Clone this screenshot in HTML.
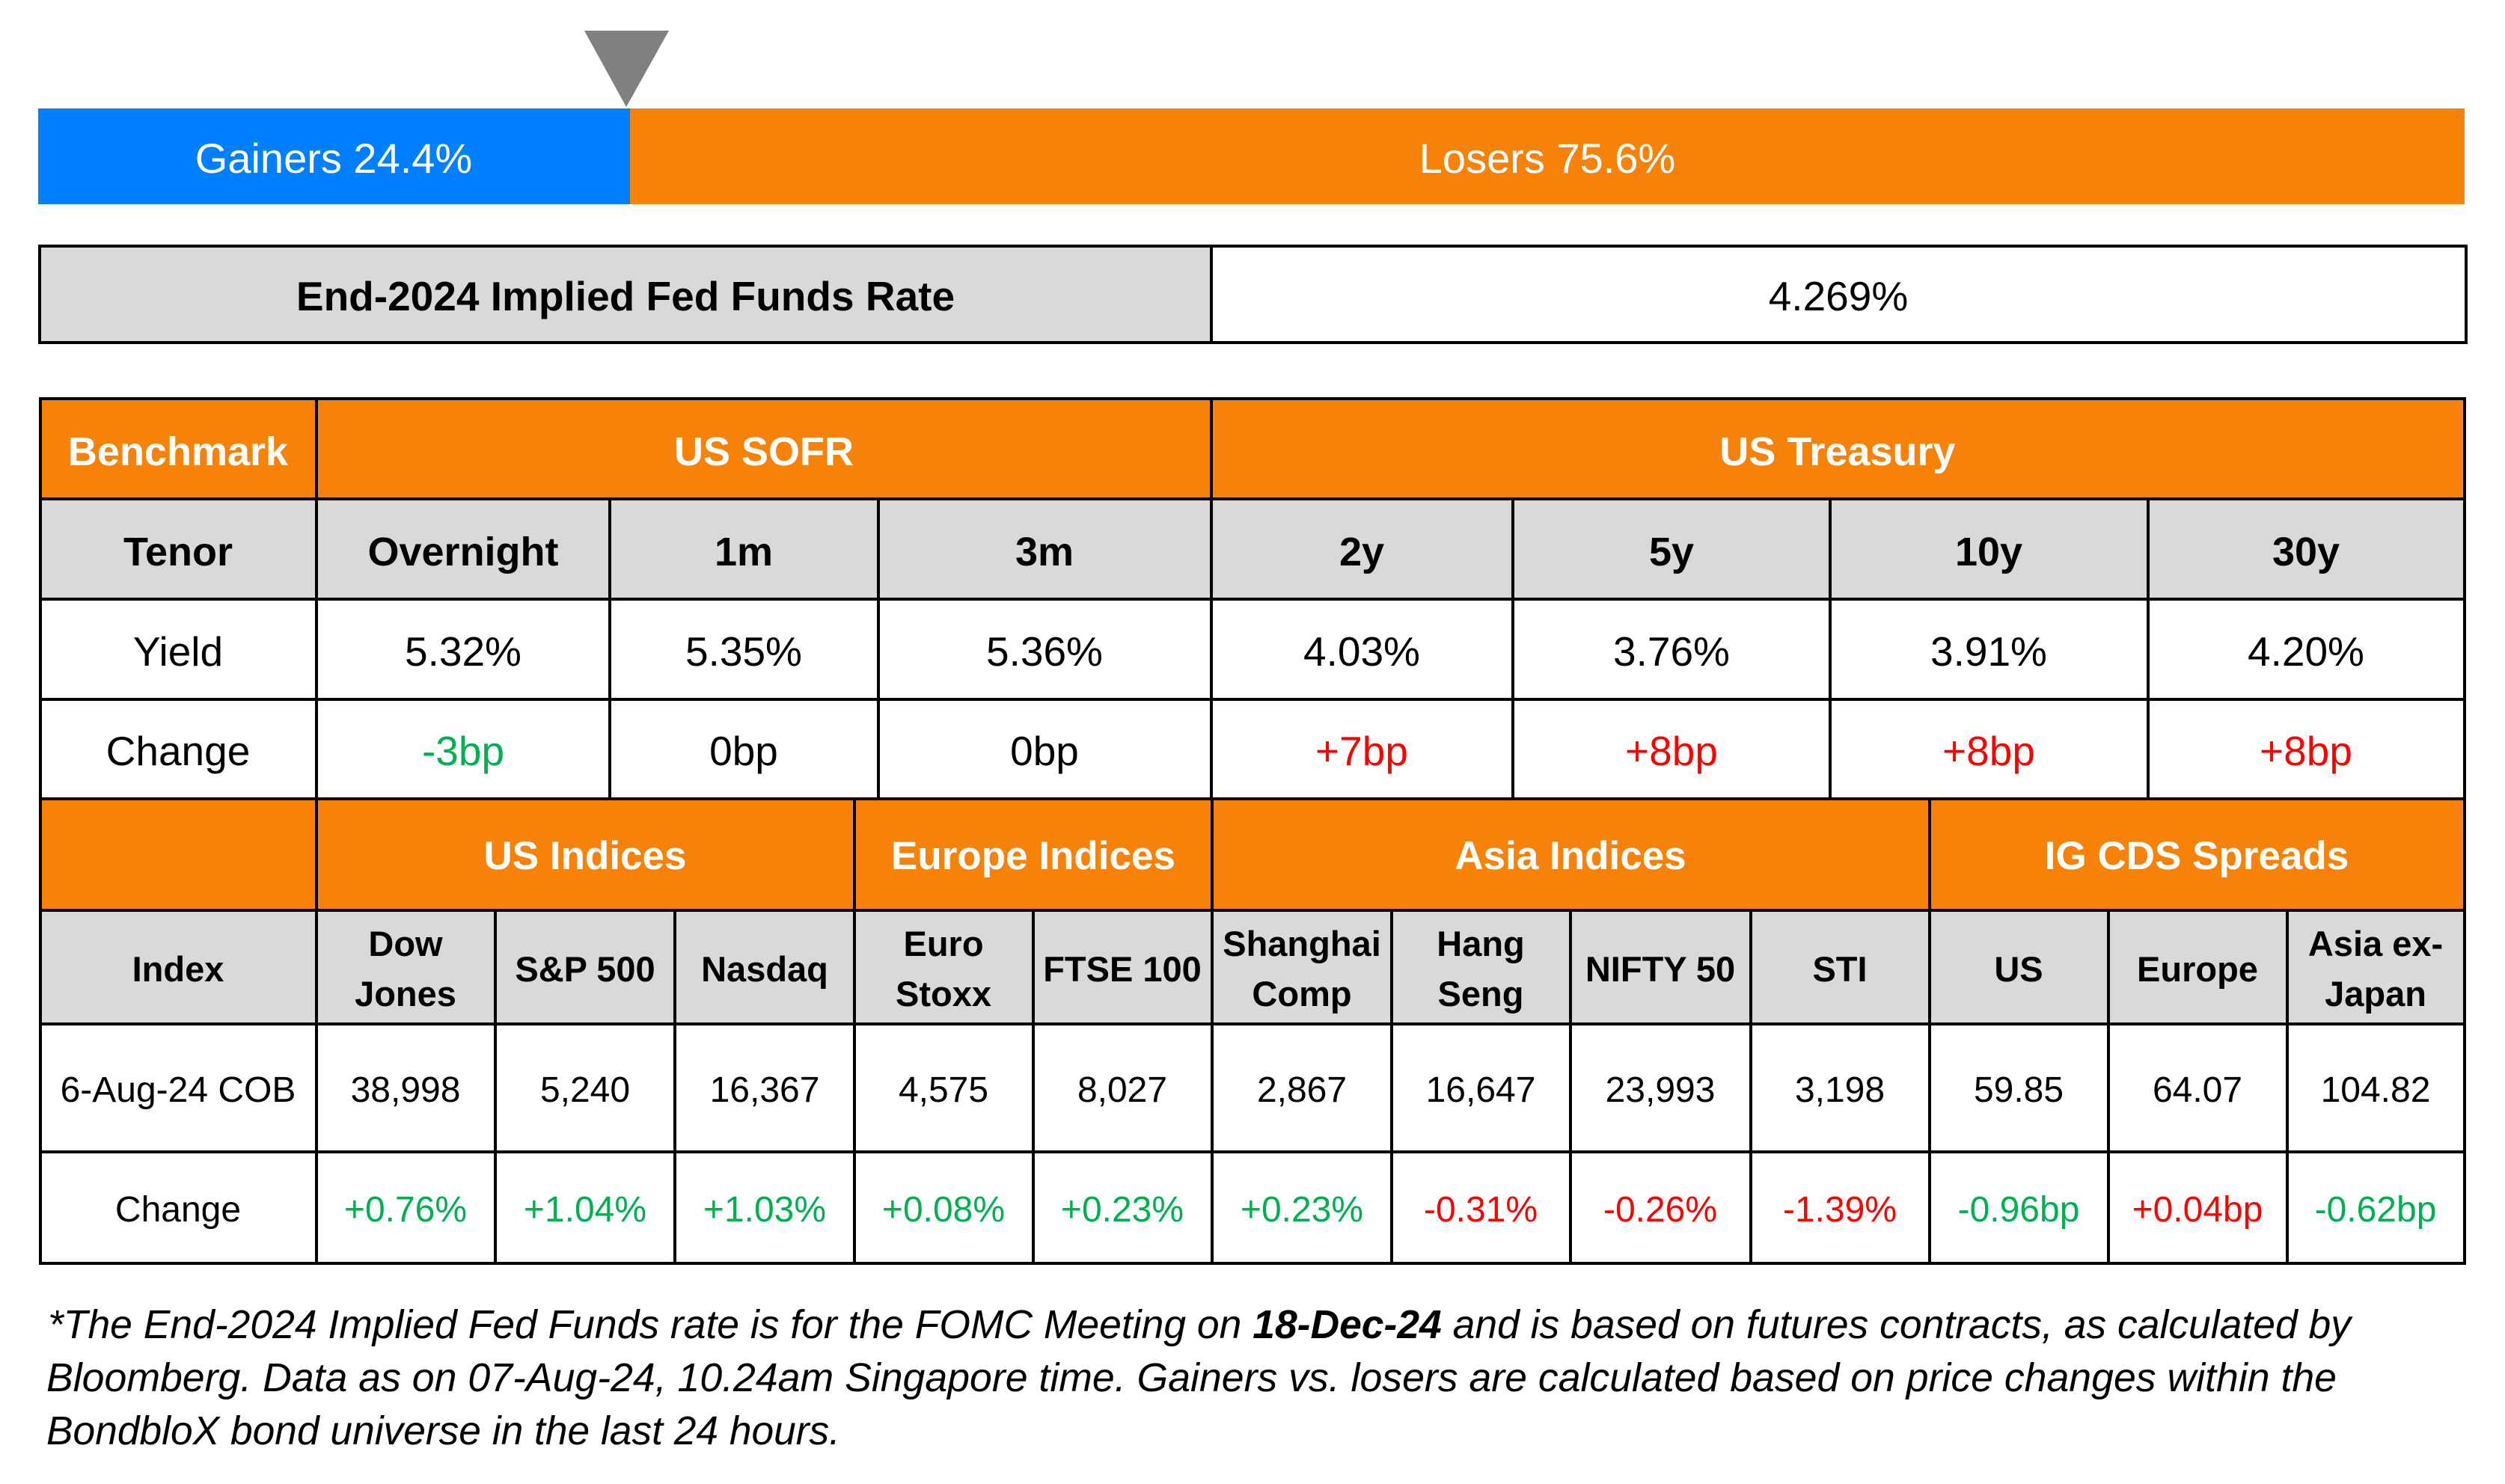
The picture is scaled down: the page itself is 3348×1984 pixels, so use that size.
<!DOCTYPE html>
<html>
<head>
<meta charset="utf-8">
<style>
html,body{margin:0;padding:0;background:#fff;}
svg{display:block;}
text{font-family:"Liberation Sans",Arial,sans-serif;}
.b{font-weight:bold;}
.w{fill:#fff;}
.k{fill:#000;}
.g{fill:#00B050;}
.r{fill:#FF0000;}
</style>
</head>
<body>
<svg xmlns="http://www.w3.org/2000/svg" width="3348" height="1984" viewBox="0 0 3348 1984">
<rect x="0" y="0" width="3348" height="1984" fill="#fff"/>

<!-- Gainers / Losers bar -->
<polygon points="781,41 894,41 837,143" fill="#808080"/>
<rect x="51" y="145" width="791" height="128" fill="#0080FF"/>
<rect x="842" y="145" width="2452" height="128" fill="#F7820A"/>
<text x="446" y="231" font-size="56" text-anchor="middle" class="w">Gainers 24.4%</text>
<text x="2068" y="231" font-size="56" text-anchor="middle" class="w">Losers 75.6%</text>

<!-- Fed funds box -->
<rect x="53" y="329" width="1566" height="129" fill="#D9D9D9"/>
<g stroke="#000" stroke-width="4" stroke-linecap="square" fill="none">
<rect x="53" y="329" width="3243" height="129"/>
<line x1="1619" y1="329" x2="1619" y2="458"/>
</g>
<text x="836" y="415" font-size="55" text-anchor="middle" class="b k">End-2024 Implied Fed Funds Rate</text>
<text x="2457" y="415" font-size="55" text-anchor="middle" class="k">4.269%</text>

<!-- Top table backgrounds -->
<rect x="54" y="533" width="3240" height="134" fill="#F7820A"/>
<rect x="54" y="667" width="3240" height="134" fill="#D9D9D9"/>
<!-- Second table backgrounds -->
<rect x="54" y="1068" width="3240" height="149" fill="#F7820A"/>
<rect x="54" y="1217" width="3240" height="152" fill="#D9D9D9"/>

<g stroke="#000" stroke-width="4" stroke-linecap="square" fill="none">
<!-- top table horizontals -->
<line x1="54" y1="533" x2="3294" y2="533"/>
<line x1="54" y1="667" x2="3294" y2="667"/>
<line x1="54" y1="801" x2="3294" y2="801"/>
<line x1="54" y1="935" x2="3294" y2="935"/>
<line x1="54" y1="1068" x2="3294" y2="1068"/>
<!-- outer verticals -->
<line x1="54" y1="533" x2="54" y2="1689"/>
<line x1="3294" y1="533" x2="3294" y2="1689"/>
<!-- top table verticals -->
<line x1="423" y1="533" x2="423" y2="1068"/>
<line x1="1619" y1="533" x2="1619" y2="1068"/>
<line x1="815" y1="667" x2="815" y2="1068"/>
<line x1="1174" y1="667" x2="1174" y2="1068"/>
<line x1="2022" y1="667" x2="2022" y2="1068"/>
<line x1="2446" y1="667" x2="2446" y2="1068"/>
<line x1="2871" y1="667" x2="2871" y2="1068"/>
<!-- second table horizontals -->
<line x1="54" y1="1217" x2="3294" y2="1217"/>
<line x1="54" y1="1369" x2="3294" y2="1369"/>
<line x1="54" y1="1540" x2="3294" y2="1540"/>
<line x1="54" y1="1689" x2="3294" y2="1689"/>
<!-- second table verticals -->
<line x1="423" y1="1068" x2="423" y2="1689"/>
<line x1="1142" y1="1068" x2="1142" y2="1689"/>
<line x1="1620" y1="1068" x2="1620" y2="1689"/>
<line x1="2579" y1="1068" x2="2579" y2="1689"/>
<line x1="662" y1="1217" x2="662" y2="1689"/>
<line x1="902" y1="1217" x2="902" y2="1689"/>
<line x1="1381" y1="1217" x2="1381" y2="1689"/>
<line x1="1860" y1="1217" x2="1860" y2="1689"/>
<line x1="2099" y1="1217" x2="2099" y2="1689"/>
<line x1="2340" y1="1217" x2="2340" y2="1689"/>
<line x1="2818" y1="1217" x2="2818" y2="1689"/>
<line x1="3057" y1="1217" x2="3057" y2="1689"/>
</g>

<!-- Top table text -->
<g font-size="54" text-anchor="middle" class="b w">
<text x="238" y="622">Benchmark</text>
<text x="1021" y="622">US SOFR</text>
<text x="2456" y="622">US Treasury</text>
</g>
<g font-size="54" text-anchor="middle" class="b k">
<text x="238" y="756">Tenor</text>
<text x="619" y="756">Overnight</text>
<text x="994" y="756">1m</text>
<text x="1396" y="756">3m</text>
<text x="1820" y="756">2y</text>
<text x="2234" y="756">5y</text>
<text x="2658" y="756">10y</text>
<text x="3082" y="756">30y</text>
</g>
<g font-size="55" text-anchor="middle" class="k">
<text x="238" y="890">Yield</text>
<text x="619" y="890">5.32%</text>
<text x="994" y="890">5.35%</text>
<text x="1396" y="890">5.36%</text>
<text x="1820" y="890">4.03%</text>
<text x="2234" y="890">3.76%</text>
<text x="2658" y="890">3.91%</text>
<text x="3082" y="890">4.20%</text>
</g>
<g font-size="55" text-anchor="middle">
<text x="238" y="1023" class="k">Change</text>
<text x="619" y="1023" class="g">-3bp</text>
<text x="994" y="1023" class="k">0bp</text>
<text x="1396" y="1023" class="k">0bp</text>
<text x="1820" y="1023" class="r">+7bp</text>
<text x="2234" y="1023" class="r">+8bp</text>
<text x="2658" y="1023" class="r">+8bp</text>
<text x="3082" y="1023" class="r">+8bp</text>
</g>

<!-- Second table text -->
<g font-size="53" text-anchor="middle" class="b w">
<text x="782" y="1162">US Indices</text>
<text x="1381" y="1162">Europe Indices</text>
<text x="2099" y="1162">Asia Indices</text>
<text x="2936" y="1162">IG CDS Spreads</text>
</g>
<g font-size="47" text-anchor="middle" class="b k">
<text x="238" y="1312">Index</text>
<text x="542" y="1278">Dow</text>
<text x="542" y="1345">Jones</text>
<text x="782" y="1312">S&amp;P 500</text>
<text x="1022" y="1312">Nasdaq</text>
<text x="1261" y="1278">Euro</text>
<text x="1261" y="1345">Stoxx</text>
<text x="1500" y="1312">FTSE 100</text>
<text x="1740" y="1278">Shanghai</text>
<text x="1740" y="1345">Comp</text>
<text x="1979" y="1278">Hang</text>
<text x="1979" y="1345">Seng</text>
<text x="2219" y="1312">NIFTY 50</text>
<text x="2459" y="1312">STI</text>
<text x="2698" y="1312">US</text>
<text x="2937" y="1312">Europe</text>
<text x="3175" y="1278">Asia ex-</text>
<text x="3175" y="1345">Japan</text>
</g>
<g font-size="48" text-anchor="middle" class="k">
<text x="238" y="1473">6-Aug-24 COB</text>
<text x="542" y="1473">38,998</text>
<text x="782" y="1473">5,240</text>
<text x="1022" y="1473">16,367</text>
<text x="1261" y="1473">4,575</text>
<text x="1500" y="1473">8,027</text>
<text x="1740" y="1473">2,867</text>
<text x="1979" y="1473">16,647</text>
<text x="2219" y="1473">23,993</text>
<text x="2459" y="1473">3,198</text>
<text x="2698" y="1473">59.85</text>
<text x="2937" y="1473">64.07</text>
<text x="3175" y="1473">104.82</text>
</g>
<g font-size="48" text-anchor="middle">
<text x="238" y="1633" class="k">Change</text>
<text x="542" y="1633" class="g">+0.76%</text>
<text x="782" y="1633" class="g">+1.04%</text>
<text x="1022" y="1633" class="g">+1.03%</text>
<text x="1261" y="1633" class="g">+0.08%</text>
<text x="1500" y="1633" class="g">+0.23%</text>
<text x="1740" y="1633" class="g">+0.23%</text>
<text x="1979" y="1633" class="r">-0.31%</text>
<text x="2219" y="1633" class="r">-0.26%</text>
<text x="2459" y="1633" class="r">-1.39%</text>
<text x="2698" y="1633" class="g">-0.96bp</text>
<text x="2937" y="1633" class="r">+0.04bp</text>
<text x="3175" y="1633" class="g">-0.62bp</text>
</g>

<!-- Footnote -->
<g font-size="54" font-style="italic" class="k">
<text x="64" y="1789" textLength="3078" lengthAdjust="spacingAndGlyphs">*The End-2024 Implied Fed Funds rate is for the FOMC Meeting on <tspan font-weight="bold">18-Dec-24</tspan> and is based on futures contracts, as calculated by</text>
<text x="62" y="1860" textLength="3061" lengthAdjust="spacingAndGlyphs">Bloomberg. Data as on 07-Aug-24, 10.24am Singapore time. Gainers vs. losers are calculated based on price changes within the</text>
<text x="62" y="1931" textLength="1061" lengthAdjust="spacingAndGlyphs">BondbloX bond universe in the last 24 hours.</text>
</g>
</svg>
</body>
</html>
